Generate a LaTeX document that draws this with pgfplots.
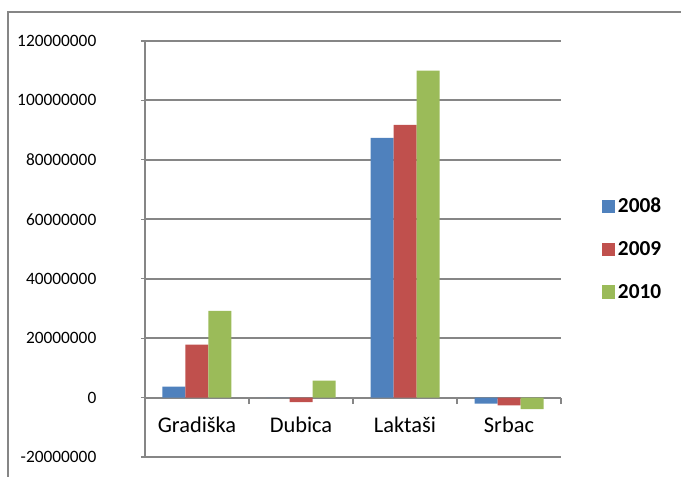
\documentclass[border=0pt]{standalone}
\usepackage{fontspec}
\setmainfont{Carlito}
\usepackage{pgfplots}
\pgfplotsset{compat=1.18}
\definecolor{c08}{HTML}{4F81BD}
\definecolor{c09}{HTML}{C0504D}
\definecolor{c10}{HTML}{9BBB59}
\definecolor{gridgray}{HTML}{868686}
\begin{document}
\begin{tikzpicture}
  \useasboundingbox (-108.75pt,-15pt) rectangle (402pt,342.75pt);
  \draw[gridgray, line width=1.5pt] (-102.75pt,-16pt) -- (-102.75pt,333.75pt) -- (403pt,333.75pt);
  \begin{axis}[
      scale only axis,
      width=312pt, height=312pt,
      ybar=0pt, bar width=17.25pt,
      xmin=-0.5, xmax=3.5,
      ymin=-20000000, ymax=120000000,
      ytick={-20000000,0,20000000,40000000,60000000,80000000,100000000,120000000},
      scaled y ticks=false,
      yticklabel style={/pgf/number format/fixed, /pgf/number format/1000 sep={},
        /pgf/number format/assume math mode=true,
        font=\fontsize{13}{15}\selectfont, xshift=-30pt},
      xtick={0,1,2,3},
      xticklabels={Gradiška,Dubica,Laktaši,Srbac},
      xticklabel style={font=\fontsize{16.8}{19}\selectfont, yshift=-8pt},
      minor xtick={0.5,1.5,2.5,3.5},
      axis x line=middle, axis y line=left,
      axis line style={gridgray, line width=1pt, -},
      x axis line style={gridgray, line width=0.8pt},
      major x tick style={draw=none},
      minor x tick style={gridgray, line width=0.8pt},
      minor tick length=5pt,
      major tick length=3pt,
      ytick style={gridgray, line width=0.8pt},
      tick align=outside,
      ymajorgrids=true,
      major grid style={gridgray, line width=1.4pt},
      legend style={draw=none, at={(1.089,0.5)}, anchor=west,
        font=\fontsize{16}{18}\selectfont\bfseries, row sep=16pt,
        /tikz/every even column/.append style={column sep=2pt}},
      legend cell align=left,
    ]
    \addplot[fill=c08, draw=none, legend image code/.code={\fill[c08] (0pt,-4.9pt) rectangle (9.75pt,4.9pt);}]
      coordinates {(0,3700000) (1,0) (2,87400000) (3,-2000000)};
    \addlegendentry{2008}
    \addplot[fill=c09, draw=none, legend image code/.code={\fill[c09] (0pt,-4.9pt) rectangle (9.75pt,4.9pt);}]
      coordinates {(0,17800000) (1,-1500000) (2,91800000) (3,-2600000)};
    \addlegendentry{2009}
    \addplot[fill=c10, draw=none, legend image code/.code={\fill[c10] (0pt,-4.9pt) rectangle (9.75pt,4.9pt);}]
      coordinates {(0,29200000) (1,5700000) (2,110000000) (3,-3900000)};
    \addlegendentry{2010}
  \end{axis}
\end{tikzpicture}
\end{document}
